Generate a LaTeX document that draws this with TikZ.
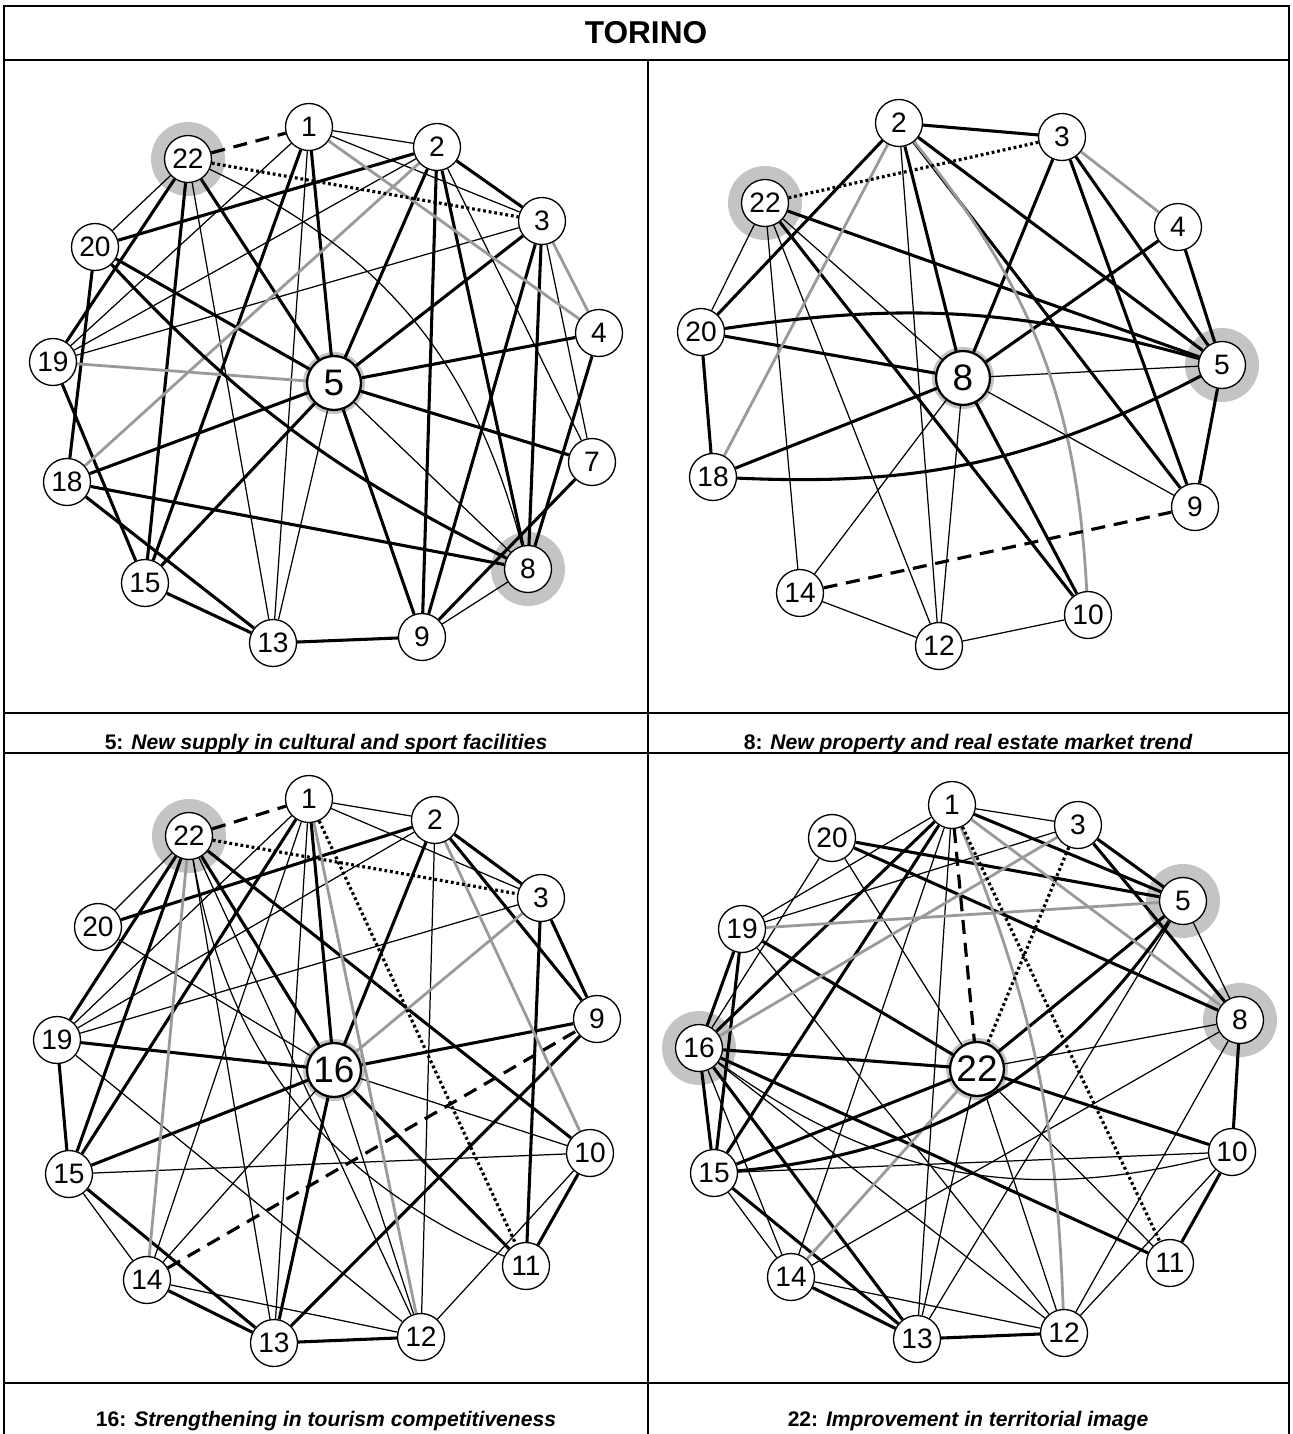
\documentclass[tikz,border=0pt]{standalone}
\usepackage{fontspec}
\setmainfont{Liberation Sans}
\definecolor{HaloGray}{HTML}{C4C4C4}
\definecolor{EdgeGray}{HTML}{9A9A9A}
\pgfdeclarelayer{halo}
\pgfdeclarelayer{edges}
\pgfsetlayers{halo,edges,main}
\tikzset{
  frm/.style={line width=1.1pt},
  nd/.style={circle, draw, fill=white, line width=0.75pt, minimum size=0.94cm,
             inner sep=0pt, font=\fontsize{16}{16}\selectfont},
  ctr/.style={nd, minimum size=1.08cm, line width=1.3pt, font=\fontsize{21}{21}\selectfont},
  thk/.style={line width=1.75pt},
  thn/.style={line width=0.7pt},
  gry/.style={line width=1.6pt, draw=EdgeGray},
  dsh/.style={line width=1.8pt, dash pattern=on 8pt off 5pt},
  dtt/.style={line width=1.8pt, dash pattern=on 1.6pt off 1.6pt},
  captxt/.style={anchor=base, font=\fontsize{12}{14}\selectfont\bfseries},
}
\begin{document}
\begin{tikzpicture}[x=0.02cm,y=-0.02cm]
\useasboundingbox (0,0) rectangle (1292,1434);

% ---------------- table frame ------------------------------------------------
\draw[frm] (4,6) rectangle (1289,1450);
\draw[frm] (4,60) -- (1289,60);
\draw[frm] (648,60) -- (648,1450);
\foreach \y in {713,753,1383}{
  \draw[frm] (4,\y) -- (1289,\y);}
\node[font=\fontsize{18}{18}\selectfont\bfseries] (ttl) at (646,33) {TORINO};

% ---------------- panel A: 5 ---------------------------------------------------
\foreach \n/\x/\y in {1/309/127,2/437/147,3/542/221,4/599/333,7/592/462,8/528/569,
  9/422/637,13/273/643,15/145/583,18/67/482,19/53/362,20/95/247,22/188/159}{
  \node[nd] (a\n) at (\x,\y) {\n};}
\node[ctr] (a5) at (334,383) {5};
\begin{pgfonlayer}{halo}
  \fill[HaloGray] (a22) circle (0.74cm) (a8) circle (0.74cm) (a5) circle (0.62cm);
\end{pgfonlayer}
\begin{pgfonlayer}{edges}
  \foreach \u/\v in {22/19,22/15,22/5,1/15,1/5,2/3,2/20,2/5,2/9,2/8,3/5,3/9,3/8,4/5,4/8,
    5/7,5/9,5/15,5/18,5/20,7/9,20/18,18/8,18/13,19/15,15/13,13/9}{
    \draw[thk] (a\u) -- (a\v);}
  \foreach \u/\v in {22/20,22/13,1/2,1/3,1/19,1/13,2/19,2/7,3/19,3/7,5/8,5/13,9/8}{
    \draw[thn] (a\u) -- (a\v);}
  \foreach \u/\v in {1/4,3/4,2/18,19/5}{
    \draw[gry] (a\u) -- (a\v);}
  \draw[thk] (a20) to[bend right=10] (a8);
  \draw[thn] (a22) to[bend left=25] (a8);
  \draw[dsh] (a22) -- (a1);
  \draw[dtt] (a22) -- (a3);
\end{pgfonlayer}
\node[captxt] (capA) at (326,749) {5: \itshape New supply in cultural and sport facilities};

% ---------------- panel B: 8 ---------------------------------------------------
\foreach \n/\x/\y in {2/899/123,3/1062/137,4/1178/227,5/1222/365,9/1195/507,10/1088/615,
  12/939/646,14/800/593,18/713/477,20/701/332,22/765/203}{
  \node[nd] (b\n) at (\x,\y) {\n};}
\node[ctr] (b8) at (963,378) {8};
\begin{pgfonlayer}{halo}
  \fill[HaloGray] (b22) circle (0.74cm) (b5) circle (0.74cm) (b8) circle (0.62cm);
\end{pgfonlayer}
\begin{pgfonlayer}{edges}
  \foreach \u/\v in {2/3,2/20,2/8,2/9,2/5,3/8,3/9,3/5,4/8,4/5,22/5,22/10,20/8,20/18,
    8/18,8/10,9/5}{
    \draw[thk] (b\u) -- (b\v);}
  \foreach \u/\v in {22/20,22/14,22/12,22/8,2/12,8/5,8/14,8/12,8/9,14/12,12/10}{
    \draw[thn] (b\u) -- (b\v);}
  \foreach \u/\v in {2/18,3/4}{
    \draw[gry] (b\u) -- (b\v);}
  \draw[gry] (b2) to[bend left=18] (b10);
  \draw[thk] (b20) to[bend left=12] (b5);
  \draw[thk] (b18) to[bend right=15] (b5);
  \draw[dsh] (b14) -- (b9);
  \draw[dtt] (b22) -- (b3);
\end{pgfonlayer}
\node[captxt] (capB) at (968,749) {8: \itshape New property and real estate market trend};

% ---------------- panel C: 16 --------------------------------------------------
\foreach \n/\x/\y in {1/309/799,2/435/820,3/541/898,9/597/1019,10/590/1153,11/526/1266,
  12/421/1337,13/274/1343,14/147/1280,15/69/1174,19/57/1040,20/98/927,22/189/836}{
  \node[nd] (c\n) at (\x,\y) {\n};}
\node[ctr] (c16) at (334,1070) {16};
\begin{pgfonlayer}{halo}
  \fill[HaloGray] (c22) circle (0.74cm) (c16) circle (0.62cm);
\end{pgfonlayer}
\begin{pgfonlayer}{edges}
  \foreach \u/\v in {22/19,22/15,22/16,22/10,1/16,1/15,2/3,2/20,2/16,2/9,3/11,3/9,9/16,
    9/13,19/16,19/15,16/15,16/13,16/11,15/13,14/13,13/12,11/10}{
    \draw[thk] (c\u) -- (c\v);}
  \foreach \u/\v in {22/20,22/13,22/12,1/2,1/3,1/13,1/14,1/19,2/19,2/12,3/19,20/16,
    19/12,16/14,16/12,16/10,15/10,15/14,14/12,12/10}{
    \draw[thn] (c\u) -- (c\v);}
  \foreach \u/\v in {22/14,1/12,2/10,3/16}{
    \draw[gry] (c\u) -- (c\v);}
  \draw[thn] (c22) to[bend right=28] (c11);
  \draw[dsh] (c22) -- (c1);
  \draw[dsh] (c14) -- (c9);
  \draw[dtt] (c22) -- (c3);
  \draw[dtt] (c1) -- (c11);
\end{pgfonlayer}
\node[captxt] (capC) at (326,1426) {16: \itshape Strengthening in tourism competitiveness};

% ---------------- panel D: 22 --------------------------------------------------
\foreach \n/\x/\y in {1/952/805,3/1078/825,5/1183/901,8/1240/1020,10/1232/1152,
  11/1170/1263,12/1064/1333,13/917/1339,14/791/1277,15/714/1173,16/699/1048,
  19/742/929,20/832/838}{
  \node[nd] (d\n) at (\x,\y) {\n};}
\node[ctr] (d22) at (977,1069) {22};
\begin{pgfonlayer}{halo}
  \fill[HaloGray] (d5) circle (0.74cm) (d8) circle (0.74cm) (d16) circle (0.74cm)
    (d22) circle (0.62cm);
\end{pgfonlayer}
\begin{pgfonlayer}{edges}
  \foreach \u/\v in {1/5,1/15,1/16,3/5,3/8,20/5,20/8,5/22,8/10,19/22,19/16,19/15,16/22,
    16/15,16/13,16/11,22/15,22/10,15/13,14/13,13/12,11/10}{
    \draw[thk] (d\u) -- (d\v);}
  \foreach \u/\v in {1/3,1/13,1/14,1/19,3/19,20/16,20/22,5/8,5/13,8/22,8/12,8/14,19/12,
    16/14,16/12,22/13,22/12,22/11,15/10,15/14,14/12,12/10}{
    \draw[thn] (d\u) -- (d\v);}
  \foreach \u/\v in {1/8,3/16,5/19,22/14}{
    \draw[gry] (d\u) -- (d\v);}
  \draw[gry] (d1) to[bend left=10] (d12);
  \draw[thk] (d5) to[bend left=25] (d15);
  \draw[thn] (d16) to[bend right=25] (d10);
  \draw[dsh] (d1) -- (d22);
  \draw[dtt] (d1) -- (d11);
  \draw[dtt] (d3) -- (d22);
\end{pgfonlayer}
\node[captxt] (capD) at (968,1426) {22: \itshape Improvement in territorial image};

\end{tikzpicture}
\end{document}
